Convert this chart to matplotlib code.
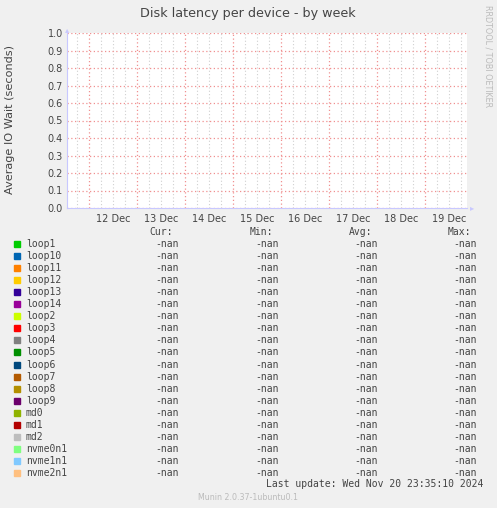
import datetime as dt
import numpy as np
import matplotlib
matplotlib.use("Agg")
import matplotlib.pyplot as plt
import matplotlib.dates as mdates

# devices and their munin colours
devices = ["loop1", "loop10", "loop11", "loop12", "loop13", "loop14", "loop2",
           "loop3", "loop4", "loop5", "loop6", "loop7", "loop8", "loop9",
           "md0", "md1", "md2", "nvme0n1", "nvme1n1", "nvme2n1"]
colors = ["#00CC00", "#0066B3", "#FF8000", "#FFCC00", "#330099", "#990099",
          "#CCFF00", "#FF0000", "#808080", "#008F00", "#00487D", "#B35A00",
          "#B38F00", "#6B006B", "#8FB300", "#B30000", "#BEBEBE", "#80FF80",
          "#80C9FF", "#FFC080"]

# no data recorded in this week: every value is nan
cur_vals = ["-nan"] * len(devices)
min_vals = ["-nan"] * len(devices)
avg_vals = ["-nan"] * len(devices)
max_vals = ["-nan"] * len(devices)

t_start = dt.datetime(2024, 12, 11, 13, 0)
t_end = dt.datetime(2024, 12, 19, 21, 0)
times = [t_start, t_end]
series = [np.array([np.nan, np.nan]) for _ in devices]

yticks = [0.0, 0.1, 0.2, 0.3, 0.4, 0.5, 0.6, 0.7, 0.8, 0.9, 1.0]

W, H = 497, 508
fig = plt.figure(figsize=(W / 100, H / 100), dpi=100, facecolor="#F0F0F0")
ax = fig.add_axes([67 / W, (H - 208) / H, 400 / W, 175 / H])
ax.set_facecolor("white")

for s, c in zip(series, colors):
    ax.plot(times, s, color=c, lw=1)

ax.set_xlim(t_start, t_end)
ax.set_ylim(0, 1.0)
ax.set_yticks(yticks)
ax.yaxis.set_major_formatter(matplotlib.ticker.FormatStrFormatter("%.1f"))

# day lines (red) and 6h lines (grey)
ax.xaxis.set_major_locator(mdates.DayLocator())
ax.xaxis.set_minor_locator(mdates.HourLocator(byhour=[6, 12, 18]))
ax.xaxis.set_major_formatter(plt.NullFormatter())
ax.grid(True, which="minor", axis="x", color="#D0D0D0", ls=(0, (1, 2)), lw=0.8)
ax.grid(True, which="major", axis="x", color="#F09090", ls=(0, (1, 2)), lw=0.9)
ax.grid(True, which="major", axis="y", color="#F09090", ls=(0, (1, 2)), lw=0.9)

# day labels at noon
noons = [dt.datetime(2024, 12, d, 12) for d in range(12, 20)]
for n in noons:
    ax.text(n, -0.035, n.strftime("%d Dec"), ha="center", va="top",
            fontsize=7, color="#444444")

ax.tick_params(axis="y", length=0, labelsize=7, labelcolor="#444444", pad=3)
ax.tick_params(axis="x", which="both", length=0)
for side in ["top", "right"]:
    ax.spines[side].set_visible(False)
ax.spines["left"].set_color("#C8C8FF")
ax.spines["bottom"].set_color("#C8C8FF")

# axis arrows
fig.text(472 / W, 1 - 208 / H, "\u25B8", color="#C8C8FF", fontsize=6,
         ha="center", va="center")
fig.text(67 / W, 1 - 30 / H, "\u25B4", color="#C8C8FF", fontsize=6,
         ha="center", va="center")

fig.text(248 / W, 1 - 13 / H, "Disk latency per device - by week",
         ha="center", va="center", fontsize=9.2, color="#444444")
fig.text(10 / W, 1 - 119 / H, "Average IO Wait (seconds)", rotation=90,
         ha="center", va="center", fontsize=8.1, color="#444444")
fig.text(488 / W, 1 - 56 / H, "RRDTOOL / TOBI OETIKER", rotation=270,
         ha="center", va="center", fontsize=5.8, color="#BBBBBB")

mono = "DejaVu Sans Mono"
fs = 7
hdr_y = 232
col_right = [179, 279, 378, 477]
headers = ["Cur:", "Min:", "Avg:", "Max:"]
for x, h in zip(col_right, headers):
    fig.text((x - 6) / W, 1 - hdr_y / H, h, ha="right", va="center",
             family=mono, fontsize=fs, color="#444444")

for i, (name, c) in enumerate(zip(devices, colors)):
    y = 244 + i * 12.05
    fig.patches.append(plt.Rectangle((14 / W, 1 - (y + 3) / H), 6 / W, 6 / H,
                                     transform=fig.transFigure, color=c))
    fig.text(26 / W, 1 - y / H, name, ha="left", va="center",
             family=mono, fontsize=fs, color="#444444")
    for x, v in zip(col_right, [cur_vals[i], min_vals[i], avg_vals[i], max_vals[i]]):
        fig.text(x / W, 1 - y / H, v, ha="right", va="center",
                 family=mono, fontsize=fs, color="#444444")

fig.text(483 / W, 1 - 484 / H, "Last update: Wed Nov 20 23:35:10 2024",
         ha="right", va="center", family=mono, fontsize=fs, color="#444444")
fig.text(248 / W, 1 - 497 / H, "Munin 2.0.37-1ubuntu0.1", ha="center",
         va="center", fontsize=5.7, color="#BBBBBB")

fig.savefig("out.png", dpi=100, facecolor=fig.get_facecolor())
